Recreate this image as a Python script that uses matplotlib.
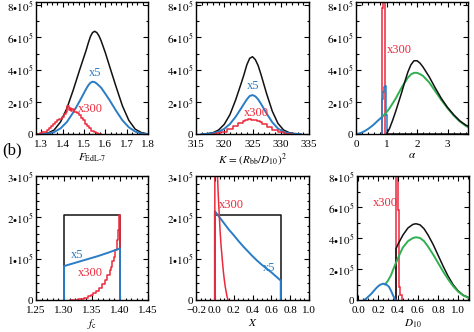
import numpy as np
import matplotlib
matplotlib.use('Agg')
import matplotlib.pyplot as plt
from matplotlib.ticker import AutoMinorLocator, MultipleLocator, FuncFormatter

plt.rcParams['font.family'] = ['Liberation Serif', 'DejaVu Serif']
plt.rcParams['mathtext.fontset'] = 'stix'
plt.rcParams['font.size'] = 8

BLACK = '#111111'
BLUE = '#2a7cc6'
RED = '#ec2a3c'
GREEN = '#30b050'

# ---- panel 1: F_EdL-7 (y in units of 1e5)
f_black_x = [1.28, 1.30, 1.33, 1.36, 1.39, 1.42, 1.45, 1.48, 1.50, 1.51, 1.52, 1.53, 1.54, 1.55, 1.56, 1.57, 1.58,
             1.60, 1.62, 1.65, 1.68, 1.71, 1.74, 1.77, 1.80]
f_black_y = [0.0, 0.0, 0.05, 0.25, 0.75, 1.6, 2.75, 4.0, 4.8, 5.2, 5.65, 6.05, 6.3, 6.38, 6.3, 6.1, 5.8,
             5.05, 4.2, 2.95, 1.75, 0.85, 0.3, 0.08, 0.0]
f_blue_x = [1.28, 1.30, 1.33, 1.36, 1.39, 1.42, 1.45, 1.48, 1.50, 1.51, 1.52, 1.53, 1.54, 1.55, 1.56, 1.58, 1.60,
            1.62, 1.65, 1.68, 1.71, 1.74, 1.77, 1.80]
f_blue_y = [0.0, 0.0, 0.03, 0.12, 0.35, 0.75, 1.35, 2.05, 2.55, 2.8, 3.02, 3.18, 3.25, 3.22, 3.13, 2.88, 2.5,
            2.1, 1.45, 0.85, 0.42, 0.15, 0.03, 0.0]
f_red_x = [1.29, 1.30, 1.31, 1.32, 1.33, 1.34, 1.35, 1.36, 1.37, 1.38, 1.39, 1.40, 1.41, 1.42, 1.425, 1.43, 1.435, 1.44,
           1.45, 1.46, 1.47, 1.48, 1.49, 1.50, 1.51, 1.52, 1.53, 1.54, 1.55, 1.56, 1.57, 1.58]
f_red_y = [0.0, 0.05, 0.1, 0.15, 0.25, 0.4, 0.5, 0.6, 0.75, 0.85, 0.95, 1.05, 1.25, 1.35, 1.75, 1.5, 1.6, 1.45,
           1.55, 1.35, 1.3, 1.2, 1.0, 0.85, 0.65, 0.5, 0.35, 0.2, 0.12, 0.05, 0.02, 0.0]

# ---- panel 2: K = (R_bb/D_10)^2
k_x = [316, 317, 318, 319, 320, 321, 322, 323, 323.5, 324, 324.5, 325, 325.5, 326, 326.5, 327.5, 328.5, 329.5,
       330.5, 331.5, 332.5, 333.5]
k_black = [0.0, 0.02, 0.08, 0.25, 0.6, 1.2, 2.1, 3.15, 3.7, 4.3, 4.7, 4.8, 4.62, 4.25, 3.7, 2.5, 1.42, 0.66,
           0.25, 0.08, 0.02, 0.0]
k_blue = [0.0, 0.01, 0.05, 0.14, 0.32, 0.62, 1.06, 1.6, 1.88, 2.15, 2.36, 2.42, 2.34, 2.15, 1.88, 1.27, 0.73, 0.34,
          0.13, 0.04, 0.01, 0.0]
k_red_x = [318, 319, 320, 321, 322, 323, 323.5, 324, 324.5, 325, 325.5, 326, 326.5, 327, 328, 329, 330, 331, 332]
k_red = [0.0, 0.05, 0.15, 0.3, 0.5, 0.7, 0.8, 0.85, 0.92, 0.88, 0.9, 0.82, 0.76, 0.65, 0.45, 0.25, 0.1, 0.02, 0.0]

# ---- panel 3: alpha
a_black_x = [1.0, 1.1, 1.2, 1.3, 1.4, 1.5, 1.6, 1.7, 1.8, 1.9, 2.0, 2.1, 2.2, 2.4, 2.6, 2.8, 3.0, 3.2, 3.4, 3.6, 3.7]
a_black = [0.0, 0.35, 0.85, 1.4, 2.0, 2.6, 3.25, 3.85, 4.3, 4.55, 4.55, 4.4, 4.15, 3.55, 2.85, 2.2, 1.65, 1.2, 0.82, 0.55, 0.47]
a_green_x = [0.85, 1.0, 1.1, 1.2, 1.3, 1.4, 1.5, 1.6, 1.7, 1.8, 1.9, 2.0, 2.1, 2.2, 2.4, 2.6, 2.8, 3.0, 3.2, 3.4, 3.6, 3.7]
a_green = [1.05, 1.35, 1.6, 1.9, 2.2, 2.55, 2.9, 3.2, 3.5, 3.7, 3.8, 3.8, 3.72, 3.6, 3.2, 2.65, 2.1, 1.6, 1.15, 0.78, 0.5, 0.4]
a_blue_x = [0.0, 0.1, 0.2, 0.3, 0.4, 0.5, 0.6, 0.7, 0.8, 0.85]
a_blue = [0.0, 0.03, 0.1, 0.2, 0.32, 0.46, 0.62, 0.8, 0.97, 1.05]
a_blue_edges = [0.85, 0.88, 0.91, 0.95, 0.98, 1.01]
a_blue_bins = [2.2, 2.6, 2.9, 3.0, 1.2]
a_red_edges = [0.84, 0.87, 0.90, 0.96]
a_red_bins = [7.8, 12.0, 12.0]

# ---- panel 4: f_c
fc_black_x = [1.30, 1.30, 1.40, 1.40]
fc_black = [0.0, 2.05, 2.05, 0.0]
fc_blue_x = [1.30, 1.30, 1.32, 1.34, 1.36, 1.38, 1.40, 1.40]
fc_blue = [0.0, 0.82, 0.9, 0.98, 1.06, 1.15, 1.25, 0.0]
fc_red_x = [1.31, 1.32, 1.33, 1.34, 1.345, 1.35, 1.355, 1.36, 1.365, 1.37, 1.375, 1.38, 1.383, 1.385, 1.388, 1.39, 1.393,
            1.395, 1.398, 1.40, 1.40]
fc_red = [0.0, 0.01, 0.03, 0.06, 0.09, 0.12, 0.17, 0.22, 0.3, 0.38, 0.48, 0.6, 0.72, 0.8, 0.95, 1.05, 1.2,
          1.45, 1.7, 2.05, 0.0]

# ---- panel 5: X
x_black_x = [0.0, 0.0, 0.70, 0.70]
x_black = [0.0, 2.05, 2.05, 0.0]
x_blue_x = [0.0, 0.0, 0.05, 0.1, 0.15, 0.2, 0.25, 0.3, 0.35, 0.4, 0.45, 0.5, 0.55, 0.6, 0.65, 0.70, 0.70]
x_blue = [0.0, 2.15, 2.0, 1.85, 1.7, 1.57, 1.43, 1.3, 1.18, 1.06, 0.95, 0.85, 0.76, 0.67, 0.57, 0.47, 0.0]
x_red_x = [0.0, 0.0, 0.015, 0.022, 0.027, 0.035, 0.045, 0.055, 0.065, 0.08, 0.09, 0.10, 0.11, 0.12, 0.13, 0.14]
x_red = [0.0, 6.0, 6.0, 4.0, 3.1, 2.6, 2.15, 1.7, 1.35, 0.95, 0.7, 0.5, 0.33, 0.2, 0.08, 0.0]

# ---- panel 6: D_10
d_black_x = [0.38, 0.38, 0.40, 0.45, 0.50, 0.55, 0.58, 0.62, 0.66, 0.70, 0.75, 0.80, 0.85, 0.90, 0.95, 1.00, 1.05, 1.10]
d_black = [0.0, 3.3, 3.6, 4.2, 4.65, 4.88, 4.92, 4.85, 4.6, 4.2, 3.6, 2.9, 2.2, 1.55, 1.0, 0.6, 0.32, 0.18]
d_green_x = [0.27, 0.30, 0.33, 0.36, 0.39, 0.42, 0.45, 0.50, 0.55, 0.58, 0.62, 0.66, 0.70, 0.75, 0.80, 0.85, 0.90, 0.95,
             1.00, 1.05, 1.10]
d_green = [1.0, 1.25, 1.6, 2.1, 2.55, 3.0, 3.4, 3.8, 4.0, 4.05, 4.0, 3.8, 3.45, 2.95, 2.4, 1.85, 1.35, 0.9,
           0.55, 0.3, 0.15]
d_blue_x = [0.06, 0.08, 0.10, 0.13, 0.16, 0.19, 0.22, 0.25, 0.28, 0.31, 0.33, 0.35, 0.37, 0.38]
d_blue = [0.0, 0.08, 0.2, 0.38, 0.6, 0.82, 0.98, 1.05, 1.02, 0.85, 0.6, 0.3, 0.05, 0.0]
d_red_edges = [0.375, 0.398, 0.41, 0.42, 0.435]
d_red_bins = [12.0, 5.8, 0.85, 0.3]

E5 = 1e5


def ylab(v, pos):
    if abs(v) < 1:
        return '0'
    return r'$%d\!\bullet\!10^5$' % round(v / E5)


def style(ax, xlim, ylim, xmaj, xmin_div, ymaj, ymin_div):
    ax.set_xlim(*xlim)
    ax.set_ylim(*ylim)
    ax.xaxis.set_major_locator(MultipleLocator(xmaj))
    ax.xaxis.set_minor_locator(AutoMinorLocator(xmin_div))
    ax.yaxis.set_major_locator(MultipleLocator(ymaj))
    ax.yaxis.set_minor_locator(AutoMinorLocator(ymin_div))
    ax.yaxis.set_major_formatter(FuncFormatter(ylab))
    ax.tick_params(which='both', direction='in', top=True, right=True, width=0.8)
    ax.tick_params(axis='y', pad=2)
    ax.tick_params(axis='x', pad=4)
    ax.tick_params(which='major', length=3.5)
    ax.tick_params(which='minor', length=1.8)
    for s in ax.spines.values():
        s.set_linewidth(1.0)


def y(v):
    return np.array(v) * E5


W, H = 474, 332


def box(l, r, t, b):
    return [l / W, (H - b) / H, (r - l) / W, (b - t) / H]


fig = plt.figure(figsize=(W / 100, H / 100), dpi=100)
lw = 1.1

# panel 1
ax = fig.add_axes(box(36, 148, 2, 134))
ax.plot(f_black_x, y(f_black_y), color=BLACK, lw=lw)
ax.plot(f_blue_x, y(f_blue_y), color=BLUE, lw=lw + 0.3)
ax.plot(f_red_x, y(f_red_y), color=RED, lw=lw, drawstyle='steps-mid')
ax.text(1.553, 3.8 * E5, 'x5', color=BLUE, ha='center', va='center', fontsize=9)
ax.text(1.53, 1.55 * E5, 'x300', color=RED, ha='center', va='center', fontsize=9)
style(ax, (1.275, 1.8), (0, 8.2 * E5), 0.1, 4, 2 * E5, 2)
ax.set_xlabel(r'$F_{\mathrm{EdL\text{-}7}}$', labelpad=2)

# panel 2
ax = fig.add_axes(box(196, 309, 2, 134))
ax.plot(k_x, y(k_black), color=BLACK, lw=lw)
ax.plot(k_x, y(k_blue), color=BLUE, lw=lw + 0.3)
ax.plot(k_red_x, y(k_red), color=RED, lw=lw, drawstyle='steps-mid')
ax.text(325.1, 2.97 * E5, 'x5', color=BLUE, ha='center', va='center', fontsize=9)
ax.text(325.7, 1.3 * E5, 'x300', color=RED, ha='center', va='center', fontsize=9)
style(ax, (315, 335), (0, 8.2 * E5), 5, 5, 2 * E5, 2)
ax.set_xlabel(r'$K\,=\,(R_{\mathrm{bb}}/D_{10})^2$', labelpad=2)

# panel 3
ax = fig.add_axes(box(356, 468, 2, 134))
ax.plot(a_green_x, y(a_green), color=GREEN, lw=lw + 0.3)
ax.plot(a_black_x, y(a_black), color=BLACK, lw=lw)
ax.plot([1.0, 3.7], [0, 0], color=BLACK, lw=lw)
ax.stairs(y(a_red_bins), a_red_edges, color=RED, lw=lw)
ax.plot(a_blue_x, y(a_blue), color=BLUE, lw=lw + 0.3)
ax.stairs(y(a_blue_bins), a_blue_edges, color=BLUE, lw=lw)
ax.text(1.0, 5.2 * E5, 'x300', color=RED, ha='left', va='center', fontsize=9)
style(ax, (0, 3.67), (0, 8.2 * E5), 1, 5, 2 * E5, 2)
ax.set_xlabel(r'$\alpha$', labelpad=2)

fig.text(0.004, (H - 150) / H, '(b)', fontsize=12, va='center', ha='left')

# panel 4
ax = fig.add_axes(box(36, 148, 176, 300))
ax.plot(fc_black_x, y(fc_black), color=BLACK, lw=lw)
ax.plot(fc_red_x, y(fc_red), color=RED, lw=lw, drawstyle='steps-mid')
ax.plot(fc_blue_x, y(fc_blue), color=BLUE, lw=lw + 0.3)
ax.text(1.3236, 1.09 * E5, 'x5', color=BLUE, ha='center', va='center', fontsize=9)
ax.text(1.347, 0.65 * E5, 'x300', color=RED, ha='center', va='center', fontsize=9)
style(ax, (1.25, 1.45), (0, 3 * E5), 0.05, 5, 1 * E5, 5)
ax.set_xlabel(r'$f_{\mathrm{c}}$', labelpad=2)

# panel 5
ax = fig.add_axes(box(196, 309, 176, 300))
ax.plot(x_black_x, y(x_black), color=BLACK, lw=lw)
ax.plot(x_blue_x, y(x_blue), color=BLUE, lw=lw + 0.3)
ax.plot(x_red_x, y(x_red), color=RED, lw=lw)
ax.text(0.171, 2.3 * E5, 'x300', color=RED, ha='center', va='center', fontsize=9)
ax.text(0.573, 0.77 * E5, 'x5', color=BLUE, ha='center', va='center', fontsize=9)
style(ax, (-0.2, 1.0), (0, 3 * E5), 0.2, 4, 1 * E5, 5)
ax.set_xlabel(r'$X$', labelpad=2)

# panel 6
ax = fig.add_axes(box(357, 469, 176, 300))
ax.plot(d_black_x, y(d_black), color=BLACK, lw=lw)
ax.plot(d_green_x, y(d_green), color=GREEN, lw=lw + 0.3)
ax.plot(d_blue_x, y(d_blue), color=BLUE, lw=lw + 0.3)
ax.stairs(y(d_red_bins), d_red_edges, color=RED, lw=lw)
ax.text(0.27, 6.24 * E5, 'x300', color=RED, ha='center', va='center', fontsize=9)
style(ax, (-0.01, 1.11), (0, 8 * E5), 0.2, 4, 2 * E5, 2)
ax.set_xlabel(r'$D_{10}$', labelpad=2)

fig.savefig('out.png', dpi=100)
